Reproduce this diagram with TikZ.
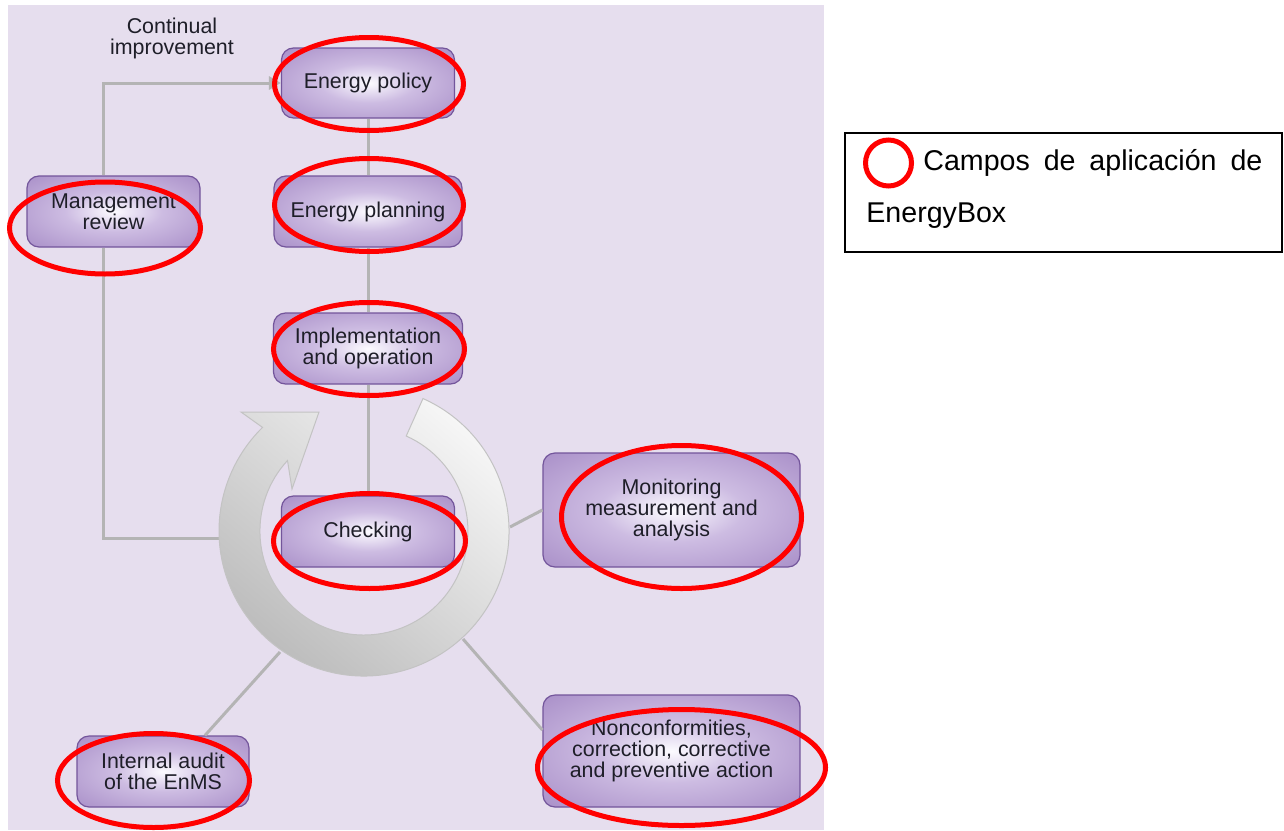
\documentclass[tikz,border=0pt]{standalone}
\usepackage{fontspec}
\setmainfont{Liberation Sans}
\usetikzlibrary{arrows.meta,calc,shapes.geometric}
\definecolor{panel}{RGB}{230,222,238}
\definecolor{boxline}{RGB}{115,85,155}
\definecolor{txt}{RGB}{30,30,40}
\definecolor{linegray}{RGB}{180,180,180}
\definecolor{ringlight}{RGB}{246,246,246}
\definecolor{ringdark}{RGB}{186,186,186}
\definecolor{ringedge}{RGB}{195,195,195}
\definecolor{bc}{RGB}{252,251,255}
\definecolor{bm}{RGB}{205,188,226}
\definecolor{be}{RGB}{152,122,188}
\definecolor{bo}{RGB}{138,106,176}
\pgfdeclareradialshading{boxglow}{\pgfpoint{0bp}{0bp}}{color(0bp)=(bc); color(14bp)=(bm); color(46bp)=(be); color(72bp)=(bo)}
\begin{document}
\begin{tikzpicture}[x=0.5pt,y=0.5pt,
  box/.style={rectangle, rounded corners=6pt, draw=boxline, line width=0.6pt, shade, shading=boxglow, text=txt, font=\fontsize{10.7}{10.7}\selectfont, align=center, inner sep=0pt},
  redring/.style={ellipse, draw=red, line width=2.5pt, inner sep=0pt},
  conn/.style={draw=linegray, line width=1.5pt},
  lbl/.style={text=txt, font=\fontsize{10.7}{10.5}\selectfont, align=center, inner sep=0pt},
  legendtext/.style={font=\fontsize{14.3}{14.3}\selectfont, inner sep=0pt, text=black}
]
\useasboundingbox (0,0) rectangle (1284,-830);
\fill[panel] (8,-5) rectangle (824,-830);

% boxes
\node[box, minimum width=86.5pt, minimum height=35pt] (pol) at (368,-83) {Energy policy};
\node[box, minimum width=94pt, minimum height=35.5pt] (plan) at (368,-211.5) {Energy planning};
\node[box, minimum width=94.5pt, minimum height=35.5pt] (impl) at (368,-348.5) {Implementation\\and operation};
\node[box, minimum width=86.5pt, minimum height=35.5pt] (chk) at (368,-531.5) {Checking};
\node[box, minimum width=86.5pt, minimum height=35.5pt] (mgmt) at (113.5,-211.5) {Management\\review};
\node[box, minimum width=128.5pt, minimum height=57pt] (mon) at (671.5,-510) {Monitoring\\measurement and\\analysis};
\node[box, minimum width=128.5pt, minimum height=56pt] (nonc) at (671.5,-751) {Nonconformities,\\correction, corrective\\and preventive action};
\node[box, minimum width=86pt, minimum height=35.5pt] (aud) at (163,-771.5) {Internal audit\\of the EnMS};

\node[lbl] (ci) at (172,-38) {Continual\\improvement};

% ring anchor coordinates
\coordinate (c) at (364,-531);
\coordinate (r1) at (220,-538);
\coordinate (r2) at (510,-527);
\coordinate (r3) at (463,-639);
\coordinate (r4) at (280,-652);

% connectors
\draw[conn] (pol.south) -- (plan.north);
\draw[conn] (plan.south) -- (impl.north);
\draw[conn] (impl.south) -- (chk.north);
\draw[conn, -{Triangle[length=6pt,width=6.5pt]}] ([xshift=-5.25pt]mgmt.north) |- (pol.west);
\draw[conn] ([xshift=-5.25pt]mgmt.south) |- (r1);
\draw[conn] (r2) -- (mon.west);
\draw[conn] (r3) -- ([yshift=10.5pt]nonc.west);
\draw[conn] (r4) -- ([xshift=21pt]aud.north);

% ring arrow
\shade[top color=ringlight, bottom color=ringdark, shading angle=-40, draw=ringedge, line width=0.5pt]
  ($(c)+(66:145)$) arc[start angle=66, end angle=-225.6, radius=145]
  -- (241,-412) -- (319,-412) -- (292,-489) -- (287.5,-460.5)
  arc[start angle=-222.7, end angle=66, radius=104] -- cycle;

% red ellipses
\node[redring, minimum width=94.5pt, minimum height=46.5pt] (e1) at (369,-84) {};
\node[redring, minimum width=94.5pt, minimum height=46.5pt] (e2) at (369,-205) {};
\node[redring, minimum width=95.5pt, minimum height=46.5pt] (e3) at (369,-349) {};
\node[redring, minimum width=96pt, minimum height=47.5pt] (e4) at (369.5,-541) {};
\node[redring, minimum width=95.5pt, minimum height=46pt] (e5) at (105,-228) {};
\node[redring, minimum width=120pt, minimum height=71.5pt] (e6) at (681.5,-517) {};
\node[redring, minimum width=144pt, minimum height=58pt] (e7) at (681.5,-767.5) {};
\node[redring, minimum width=96pt, minimum height=47pt] (e8) at (153.5,-780.5) {};

% legend
\draw[black, line width=1pt] (845,-133) rectangle (1282,-252);
\node[circle, draw=red, line width=2.5pt, minimum size=23pt, inner sep=0pt] (lc) at (888.5,-163) {};
\node[legendtext, anchor=base west] (lt1) at (923,-170) {\makebox[169.5pt][s]{Campos de aplicación de}};
\node[legendtext, anchor=base west] (lt2) at (866,-222) {EnergyBox};
\end{tikzpicture}
\end{document}
